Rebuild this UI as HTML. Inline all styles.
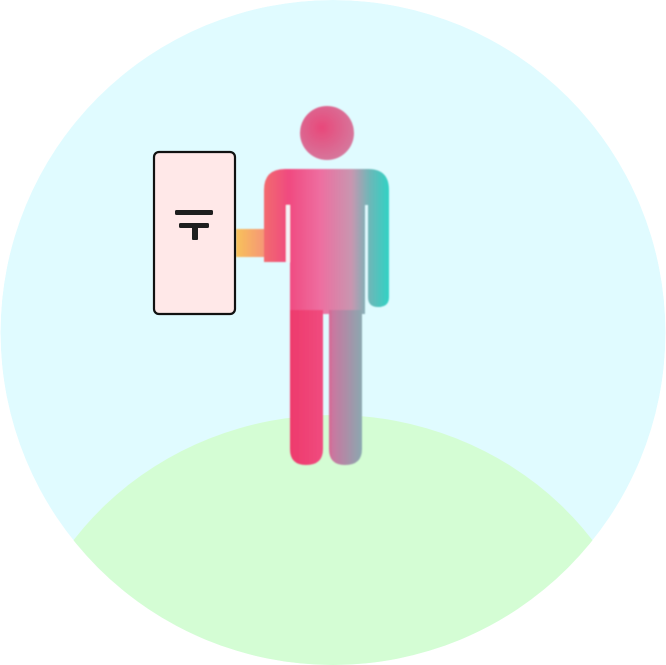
<!DOCTYPE html>
<html><head><meta charset="utf-8"><style>html,body{margin:0;padding:0;background:#fff;width:666px;height:665px;overflow:hidden}svg{display:block}</style></head>
<body>
<svg width="666" height="665" viewBox="0 0 666 665">
<defs>
<clipPath id="cc"><circle cx="333" cy="332.5" r="332.5"/></clipPath>
<linearGradient id="body" x1="264" y1="0" x2="389" y2="0" gradientUnits="userSpaceOnUse">
<stop offset="0" stop-color="#f26a6e"/>
<stop offset="0.2" stop-color="#f04a80"/>
<stop offset="0.45" stop-color="#ee6ea0"/>
<stop offset="0.7" stop-color="#c896b0"/>
<stop offset="0.85" stop-color="#6ab8b8"/>
<stop offset="1" stop-color="#30d2c4"/>
</linearGradient>
<linearGradient id="legs" x1="290" y1="0" x2="362" y2="0" gradientUnits="userSpaceOnUse">
<stop offset="0" stop-color="#ee3a6c"/>
<stop offset="0.45" stop-color="#f04a7e"/>
<stop offset="0.6" stop-color="#c878a0"/>
<stop offset="1" stop-color="#8aa8b0"/>
</linearGradient>
<linearGradient id="arm" x1="236" y1="0" x2="290" y2="0" gradientUnits="userSpaceOnUse">
<stop offset="0" stop-color="#f8c25a"/>
<stop offset="0.6" stop-color="#f5907a"/>
<stop offset="1" stop-color="#f26a78"/>
</linearGradient>
<radialGradient id="head" cx="0.4" cy="0.4" r="0.7">
<stop offset="0" stop-color="#e8487a"/><stop offset="1" stop-color="#d47ca0"/>
</radialGradient>
<filter id="soft"><feGaussianBlur stdDeviation="0.8"/></filter>
</defs>
<g clip-path="url(#cc)">
<circle cx="333" cy="332.5" r="332.5" fill="#e0fbff"/>
<ellipse cx="333" cy="722" rx="322" ry="307" fill="#d4fdd4"/>
</g>
<g filter="url(#soft)">
<circle cx="327" cy="133" r="27" fill="url(#head)"/>
<path d="M236 229 L266 229 L266 257 L236 257 Z" fill="url(#arm)"/>
<path d="M264 190 Q264 169 285 169 L368 169 Q389 169 389 190 L389 297 Q389 307 378 307 Q368 307 368 297 L368 205 L365 205 L365 314 L290 314 L290 262 L264 262 Z" fill="url(#body)"/>
<path d="M290 310 L323 310 L323 449 Q323 465 306 465 Q290 465 290 449 Z" fill="url(#legs)"/>
<path d="M329 310 L362 310 L362 449 Q362 465 345 465 Q329 465 329 449 Z" fill="url(#legs)"/>
<rect x="286" y="205" width="4" height="57" fill="#f4f4f8"/>
</g>
<g>
<rect x="154" y="152" width="81" height="162" rx="5" fill="#ffe8e8" stroke="#111" stroke-width="2.2"/>
<rect x="175" y="210" width="38" height="5" rx="1.5" fill="#1e1e1e"/>
<rect x="179" y="223" width="30" height="5" rx="1.5" fill="#1e1e1e"/>
<rect x="192" y="223" width="6" height="17" rx="1" fill="#1e1e1e"/>
</g>
</svg>
</body></html>
